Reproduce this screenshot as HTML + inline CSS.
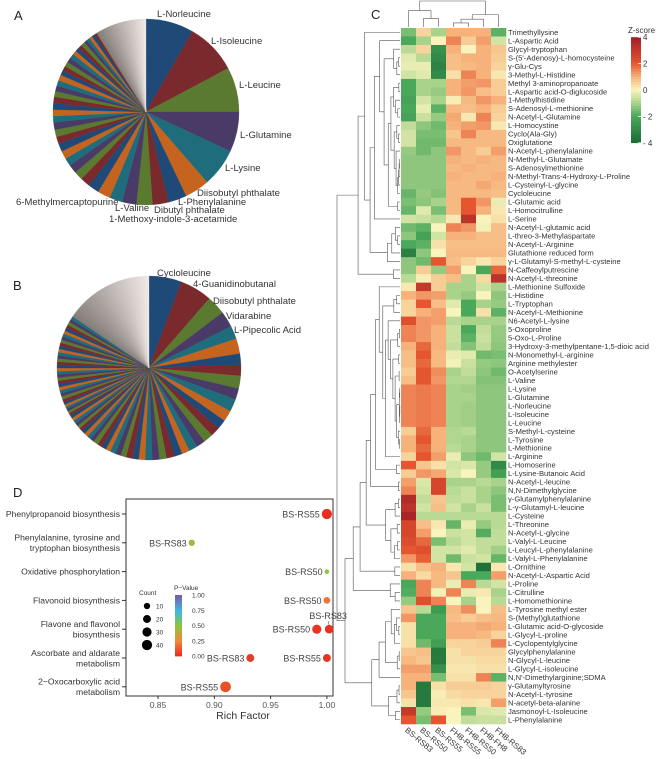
<!DOCTYPE html>
<html><head><meta charset="utf-8"><style>
html,body{margin:0;padding:0;background:#fff}
svg{display:block;font-family:"Liberation Sans",Arial,sans-serif}
</style></head><body>
<svg id="fig" width="669" height="759" viewBox="0 0 669 759" xmlns="http://www.w3.org/2000/svg">
<rect width="669" height="759" fill="#fff"/>
<text x="14" y="20" font-size="13" fill="#222">A</text>
<text x="13" y="290" font-size="13" fill="#222">B</text>
<text x="371" y="19" font-size="13" fill="#222">C</text>
<text x="13" y="497" font-size="13" fill="#222">D</text>
<g id="pieA"></g>
<g id="pieB"></g>
<g id="heat"></g>
<g id="dot"></g>
</svg>
<script>
const NS="http://www.w3.org/2000/svg";
function mk(tag,attrs,parent,txt){const e=document.createElementNS(NS,tag);for(const k in attrs)e.setAttribute(k,attrs[k]);if(txt!==undefined)e.textContent=txt;parent.appendChild(e);return e;}

// ---------- PIE DATA ----------
const pieAValues=[30,32,28,25,24,15.5,11.5,10,10,9,8,8,7,6,5.5,5.5,5,5,5,4.5,4.5,4.5,4,4,4,4,3.5,3.5,3.5,3.5,3,3,3,3,3,2.5,2.5,2.5,2.5,2,2,2,2,1.5];
const pieAGray=[1.6,1.6,1.6,1.6,1.6,1.6,1.6,1.6,1.6,1.6,1.6,1.6,1.6,1.6,1.6,1.6,1.6,1.6,1.6,1.6];
const pieALabels=[["L-Norleucine",157,17],["L-Isoleucine",211,44],["L-Leucine",239,88],["L-Glutamine",240,138],["L-Lysine",225,171],["Diisobutyl phthalate",197,196],["L-Phenylalanine",178,205],["Dibutyl phthalate",154,213],["1-Methoxy-indole-3-acetamide",109,222],["L-Valine",115,211],["6-Methylmercaptopurine",16,205]];
const pieBValues=[20.6,20.4,12,10,8.5,9.5,7,7,8,7,8,7,6,6,6,5.5,5.5,5,5,5,4.5,4.5,4.5,4,4,4,3.5,3.5,3.5,3,3,3,3,2.5,2.5,2.5,2.5,2,2,2,2,2,2,1.5,1.5,1.5,1.5,1.5,1.5,2,2,2,2,2,2,2,2,2,2,2,2,2,2,2,2,2,2,2,2,2,2,2,2,2,2,2,2];
const pieBGray=[2,2,2,2,2,2,2,2,2,2,2,2,2,2,2,2,2,2,2,2,2,2,2,2,2,2,2,2];
const pieBLabels=[["Cycloleucine",157,276],["4-Guanidinobutanal",193,287],["Diisobutyl phthalate",213,304],["Vidarabine",226,319],["L-Pipecolic Acid",234,333]];
const pieColors=["#1f4a78","#7a2a2c","#5a7a30","#4a3a68","#1f6c7c","#c4641e"];

function drawPie(g,cx,cy,r,vals,grays,labels,nm){
  const all=vals.concat(grays);const tot=all.reduce((a,b)=>a+b,0);
  let a0=0;
  all.forEach((v,i)=>{
    const a1=a0+v/tot*Math.PI*2;
    const x0=cx+r*Math.sin(a0),y0=cy-r*Math.cos(a0),x1=cx+r*Math.sin(a1),y1=cy-r*Math.cos(a1);
    let col;
    if(i<vals.length)col=pieColors[i%6];else{const t=(i-vals.length)/grays.length;const c=Math.round(125+t*110);col=`rgb(${c+8},${c},${c-4})`;}
    const p=mk("path",{d:`M${cx},${cy}L${x0},${y0}A${r},${r} 0 ${a1-a0>Math.PI?1:0} 1 ${x1},${y1}Z`,fill:col,stroke:col,"stroke-width":0.3},g);
    
    
    a0=a1;
  });
  labels.forEach(l=>{const t=mk("text",{x:l[1],y:l[2],"font-size":9.5,fill:"#333"},g,l[0]);
    
    });
}
drawPie(document.getElementById('pieA'),146,112,93,pieAValues,pieAGray,pieALabels,'pie-a');
drawPie(document.getElementById('pieB'),149,368,92,pieBValues,pieBGray,pieBLabels,'pie-b');

// ---------- HEATMAP DATA ----------
const heatCols=["BS-RS83","BS-RS50","BS-RS55","FH8-RS55","FH8-RS50","FH8-FH8","FH8-RS83"];
const heatRows=["Trimethyllysine","L-Aspartic Acid","Glycyl-tryptophan","S-(5'-Adenosy)-L-homocysteine","γ-Glu-Cys","3-Methyl-L-Histidine","Methyl 3-aminopropanoate","L-Aspartic acid-O-diglucoside","1-Methylhistidine","S-Adenosyl-L-methionine","N-Acetyl-L-Glutamine","L-Homocystine","Cyclo(Ala-Gly)","Oxiglutatione","N-Acetyl-L-phenylalanine","N-Methyl-L-Glutamate","S-Adenosylmethionine","N-Methyl-Trans-4-Hydroxy-L-Proline","L-Cysteinyl-L-glycine","Cycloleucine","L-Glutamic acid","L-Homocitrulline","L-Serine","N-Acetyl-L-glutamic acid","L-threo-3-Methylaspartate","N-Acetyl-L-Arginine","Glutathione reduced form","γ-L-Glutamyl-S-methyl-L-cysteine","N-Caffeoylputrescine","N-Acetyl-L-threonine","L-Methionine Sulfoxide","L-Histidine","L-Tryptophan","N-Acetyl-L-Methionine","N6-Acetyl-L-lysine","5-Oxoproline","5-Oxo-L-Proline","3-Hydroxy-3-methylpentane-1,5-dioic acid","N-Monomethyl-L-arginine","Arginine methylester","O-Acetylserine","L-Valine","L-Lysine","L-Glutamine","L-Norleucine","L-Isoleucine","L-Leucine","S-Methyl-L-cysteine","L-Tyrosine","L-Methionine","L-Arginine","L-Homoserine","L-Lysine-Butanoic Acid","N-Acetyl-L-leucine","N,N-Dimethylglycine","γ-Glutamylphenylalanine","L-γ-Glutamyl-L-leucine","L-Cysteine","L-Threonine","N-Acetyl-L-glycine","L-Valyl-L-Leucine","L-Leucyl-L-phenylalanine","L-Valyl-L-Phenylalanine","L-Ornithine","N-Acetyl-L-Aspartic Acid","L-Proline","L-Citrulline","L-Homomethionine","L-Tyrosine methyl ester","S-(Methyl)glutathione","L-Glutamic acid-O-glycoside","L-Glycyl-L-proline","L-Cyclopentylglycine","Glycylphenylalanine","N-Glycyl-L-leucine","L-Glycyl-L-isoleucine","N,N'-Dimethylarginine;SDMA","γ-Glutamyltyrosine","N-Acetyl-L-tyrosine","N-acetyl-beta-alanine","Jasmonoyl-L-Isoleucine","L-Phenylalanine"];
const heatValues=[
[-1.5,0.5,-1,1,1,1,-1.8],[-2,-1,0,1.5,0.6,1.2,-0.5],[-0.8,0.5,-2.8,1,0,1,0.7],[-0.3,-0.8,-3,0.8,1,1,0.6],[-0.2,-0.2,-3.2,0.8,0.9,1,0.5],[-0.5,-0.3,-3,0.3,1.5,1,0.2],
[-2,-1,-1,1,1.2,1.3,0.6],[-2,-1,-1.2,1,1.3,0.8,0.6],[-2.2,-0.5,-1,0.1,0.9,1.3,1],[-2,-0.2,-1.8,0.9,0.8,1,0.6],[-2.2,-0.6,-1.2,1.1,0.2,1.5,0.5],
[-0.7,-1.3,-1.6,1,1.2,1.3,0.2],[-0.5,-1.5,-1.5,0.7,1.5,0.9,0.9],[-0.5,-1.6,-1.6,0.9,0.9,0.9,0.9],[-1.2,-1.6,-1.3,1.3,0.9,0.6,1.2],[-1.3,-1.3,-1.3,1,0.9,1,0.9],
[-1.3,-1.3,-1.3,0.9,1,0.9,0.9],[-1.3,-1.3,-1.3,1,0.9,0.9,1],[-1.3,-1.3,-1.3,0.9,0.9,1.1,0.9],[-1.7,-1.2,-1.4,0.9,0.9,0.9,0.8],
[-1.5,-1.3,-1,0.9,2,1.3,-0.2],[-1.7,-0.3,-1.5,0.9,2,1,0.2],[-0.5,-0.6,-0.8,0.2,3.2,0,0.3],[-1.6,-1.8,0,1.5,1.3,-0.1,0.8],[-1.3,-2.2,-0.5,1,1,0.8,0.8],
[-2,-1.8,0.3,0.8,0.8,0.8,0.8],[-3.3,-1.3,0,0.9,0.9,0.9,0.9],[-1.3,-1.6,2,0.8,0.5,0.2,0.5],[-1.3,0.6,-1.2,1.2,0,-2,1.8],[-0.8,0.1,0.6,0.8,-1,0.4,3.2],
[0.2,3,0.6,-1,-1,-0.5,-1],[1,1.3,1.2,-1,-1.2,0,-1.3],[0.5,2,0.8,-0.3,-2,-1,-1.2],[0.5,1,1.2,0,-2,0.3,-1.8],[2.2,1.3,1.2,-0.8,-1,-1,-1],
[1.5,1.3,1,-0.6,-2,-0.7,-1.2],[1.5,1.3,1,-0.6,-1.8,-0.6,-1.2],[1,1.8,1,-0.7,-1.4,-0.7,-1.3],[0.8,2,0.9,-0.2,-0.3,-1.6,-1.5],[0.8,1.8,0.9,-0.1,-0.6,-1.2,-1.3],
[0.6,2,1.4,-1,-0.7,-1.3,-1.6],[0.8,2,1.3,-0.9,-0.9,-1.4,-1.4],[1.5,1.6,1.5,-1,-1.1,-1.3,-1.3],[1.5,1.6,1.5,-1,-1,-1.3,-1.3],[1.5,1.6,1.5,-1,-1.1,-1.3,-1.3],
[1.5,1.6,1.5,-1,-1.1,-1.3,-1.3],[1.5,1.6,1.5,-1,-1.1,-1.3,-1.3],[0.6,1.8,1,-0.9,-0.8,-1.3,-1.3],[1,2,1,-0.9,-1,-1.3,-1.3],[1,1.8,1,-0.8,-1,-1.3,-1.3],
[0.5,2,1.2,-0.2,-1.3,-1.6,-0.5],[2,0.7,0.3,-0.5,-0.4,-1.2,-3],[0.6,1.3,1.1,-0.4,0,-1.2,-2.3],[1.2,-0.4,2.5,-1,-1,-0.8,-1],[1.5,-0.5,2.5,-0.8,-0.6,-1,-1.3],
[3.5,-0.7,0.7,-0.7,-0.6,-1,-1.5],[3.2,-0.5,0.8,-0.5,-1,-0.6,-1.5],[3.7,-0.8,-0.8,-0.8,-0.8,-0.8,-0.8],[2.5,0.8,0.2,-1.7,-0.2,-1.2,-0.8],[2.5,1.2,0,-0.6,-0.5,-1.9,-0.7],
[2.3,1.8,-1.5,-0.8,-0.5,-0.7,-0.7],[2,2.2,-0.5,-0.5,-0.3,-0.7,-1.1],[1.3,1.9,-0.5,-1.6,-0.6,-0.5,-1.7],[0.3,0.8,1,0.2,-0.5,-3.8,0.2],[1,0.4,0.9,0.7,-2,-2,1.2],
[-2,1.5,0.9,-0.2,1.5,-0.8,-0.5],[-1.9,1.5,-0.1,1.5,-0.2,0.2,-1],[-1.2,2.2,1.5,0,-1,0,-0.8],[0.7,-0.8,-2.5,0.9,1.4,0,0.8],[1.3,-2,-2,0.8,0.6,0.8,0.9],
[0.3,-2,-2,1,1,1.1,1],[0.3,-2,-2,1,1,0.9,0.5],[0.3,-1.6,-2.3,0.5,0.5,0.6,1.5],[0.7,0.8,-3.5,0.3,0.5,0.5,0.5],[0.9,0.7,-3.5,0.3,0.3,0.4,0.4],
[1.2,1.2,-2.8,0.2,0.2,0.3,0.3],[1,1,-1.5,0.3,0.3,1.5,-1.8],[1,-3.5,0.3,0.6,0.6,0.6,0.5],[0.7,-3.5,0.1,0.4,0.5,0.5,0.5],[0.3,-3.5,0.2,0.2,0.3,0.2,1.2],
[3,-1.2,0.1,0,-1.5,-0.4,-0.3],[2,-1.5,2,0,-0.7,-0.6,-0.6]];
const zTicks=[4,2,0,-2,-4];

const zStops=[[-4,[26,107,53]],[-2,[74,168,90]],[-1,[169,211,138]],[0,[249,244,189]],[1,[246,178,122]],[2,[229,85,47]],[4,[160,29,37]]];
function zColor(v){v=Math.max(-4,Math.min(4,v));for(let i=0;i<zStops.length-1;i++){const a=zStops[i],b=zStops[i+1];if(v<=b[0]){const t=(v-a[0])/(b[0]-a[0]);const c=a[1].map((x,k)=>Math.round(x+(b[1][k]-x)*t));return `rgb(${c})`;}}return 'rgb(160,29,37)';}

const H=document.getElementById('heat');
const hx0=401,cw=15,hy0=28,rh=(724-28)/heatRows.length;
const hX=j=>hx0+j*cw, hY=i=>hy0+i*rh;
heatRows.forEach((nm,i)=>{
  heatValues[i].forEach((v,j)=>{
    const r=mk("rect",{x:hX(j),y:hY(i),width:cw+0.3,height:rh+0.3,fill:zColor(v)},H);
    
    
  });
  const t=mk("text",{x:508,y:hY(i)+rh/2+2.6,"font-size":7.6,fill:"#333"},H,nm);
  
  
});
heatCols.forEach((c,j)=>{
  const cx=hX(j)+cw/2-4,cy=731;
  const t=mk("text",{x:cx,y:cy,"font-size":8,fill:"#333",transform:`rotate(40 ${cx} ${cy})`},H,c);
  
  
});
// dendrograms (adjacency-constrained clustering)
function clusterTree(vecs){
  let cl=vecs.map((v,i)=>({pos:i,h:0,c:v.slice(),n:1}));
  const merges=[];
  while(cl.length>1){
    let best=0,bd=1e9;
    for(let k=0;k<cl.length-1;k++){let d=0;cl[k].c.forEach((x,m)=>d+=(x-cl[k+1].c[m])**2);d=Math.sqrt(d);if(d<bd){bd=d;best=k;}}
    const a=cl[best],b=cl[best+1];
    const nd={pos:(a.pos+b.pos)/2,h:Math.max(a.h,b.h)+bd*0.5+0.05,c:a.c.map((x,m)=>(x*a.n+b.c[m]*b.n)/(a.n+b.n)),n:a.n+b.n};
    merges.push([a,b,nd]);cl.splice(best,2,nd);
  }
  return merges;
}
const rowM=clusterTree(heatValues);const rmax=rowM[rowM.length-1][2].h;
const rg=mk("g",{stroke:"#555","stroke-width":0.6,fill:"none"},H);


rowM.forEach(([a,b,n])=>{
  const X=h=>400-h/rmax*63,Y=p=>hY(p)+rh/2;
  mk("path",{d:`M${X(a.h)},${Y(a.pos)}H${X(n.h)}V${Y(b.pos)}H${X(b.h)}`},rg);
});
const colVecs=heatCols.map((c,j)=>heatValues.map(r=>r[j]));
const colM=clusterTree(colVecs);const cmax=colM[colM.length-1][2].h;
const cg=mk("g",{stroke:"#555","stroke-width":0.6,fill:"none"},H);


colM.forEach(([a,b,n])=>{
  const Y=h=>27-h/cmax*26,X=p=>hX(p)+cw/2;
  mk("path",{d:`M${X(a.pos)},${Y(a.h)}V${Y(n.h)}H${X(b.pos)}V${Y(b.h)}`},cg);
});
// color bar
const zb=mk("g",{},H);
mk("text",{x:628,y:33,"font-size":8,fill:"#333"},zb,"Z-score");
const zY=v=>90-v*13.2;
for(let k=0;k<40;k++){const v=4-k*0.2;mk("rect",{x:631,y:zY(v),width:10,height:13.2*0.2+0.3,fill:zColor(v-0.1)},zb);}
zTicks.forEach(v=>{mk("line",{x1:638,x2:641,y1:zY(v),y2:zY(v),stroke:"#fff","stroke-width":0.8},zb);
  mk("text",{x:643,y:zY(v)+3,"font-size":8,fill:"#333"},zb,v<0?"- "+(-v):String(v));});

// ---------- BUBBLE CHART DATA ----------
const pathways=["Phenylpropanoid biosynthesis","Phenylalanine, tyrosine and|tryptophan biosynthesis","Oxidative phosphorylation","Flavonoid biosynthesis","Flavone and flavonol|biosynthesis","Ascorbate and aldarate|metabolism","2−Oxocarboxylic acid|metabolism"];
const ptPath=[0,1,2,3,4,4,5,5,6];
const ptRich=[1.0,0.88,1.0,1.0,0.991,1.002,0.932,1.0,0.91];
const ptCount=[40,10,3,12,30,25,20,20,45];
const ptP=[0.02,0.45,0.5,0.2,0.03,0.02,0.05,0.03,0.1];
const ptLabel=["BS-RS55","BS-RS83","BS-RS50","BS-RS50","BS-RS50","BS-RS83","BS-RS83","BS-RS55","BS-RS55"];
const xTicks=[0.85,0.90,0.95,1.00];
const countTicks=[10,20,30,40];
const pTicks=[1.00,0.75,0.50,0.25,0.00];

const D=document.getElementById('dot');
const bx0=126,bx1=333,by0=499,by1=696;
const xS=v=>158+(v-0.85)/0.05*56.3;
const yS=i=>514+i*28.8;
const rS=c=>1.2+Math.sqrt(c)*0.62;
const pStops=[[0,[232,40,30]],[0.25,[240,138,58]],[0.5,[140,196,60]],[0.75,[64,184,224]],[1,[123,90,166]]];
function pColor(v){for(let i=0;i<pStops.length-1;i++){const a=pStops[i],b=pStops[i+1];if(v<=b[0]){const t=(v-a[0])/(b[0]-a[0]);return `rgb(${a[1].map((x,k)=>Math.round(x+(b[1][k]-x)*t))})`;}}return 'rgb(123,90,166)';}
const fr=mk("rect",{x:bx0,y:by0,width:bx1-bx0,height:by1-by0,fill:"none",stroke:"#333","stroke-width":1},D);

pathways.forEach((p,i)=>{
  const ls=p.split("|");const y=yS(i);
  mk("line",{x1:bx0-4,x2:bx0,y1:y,y2:y,stroke:"#333"},D);
  ls.forEach((l,k)=>{const t=mk("text",{x:120,y:y+3+(k-(ls.length-1)/2)*10.5,"font-size":8.6,fill:"#333","text-anchor":"end"},D,l);
    });
});
xTicks.forEach(v=>{mk("line",{x1:xS(v),x2:xS(v),y1:by1,y2:by1+3,stroke:"#333"},D);
  const t=mk("text",{x:xS(v),y:708,"font-size":8.5,fill:"#555","text-anchor":"middle"},D,v.toFixed(2));
  });
const xt=mk("text",{x:243,y:719,"font-size":10.5,fill:"#333","text-anchor":"middle"},D,"Rich Factor");

ptRich.forEach((v,i)=>{
  const cx=xS(v),cy=yS(ptPath[i]),r=rS(ptCount[i]);
  const c=mk("circle",{cx:cx,cy:cy,r:r,fill:pColor(ptP[i])},D);
  
  
  let lx=cx-r-2,ly=cy+3.5,anc="end";
  if(i===5){lx=cx-1;ly=cy-10;anc="middle";mk("line",{x1:cx-1,y1:cy-8,x2:cx,y2:cy-4,stroke:"#333","stroke-width":0.5},D);}
  const t=mk("text",{x:lx,y:ly,"font-size":9,fill:"#444","text-anchor":anc},D,ptLabel[i]);
  
});
// legends
const lg=mk("g",{},D);
mk("text",{x:139,y:595,"font-size":6.5,fill:"#333"},lg,"Count");
countTicks.forEach((c,k)=>{const y=606+k*13;mk("circle",{cx:147,cy:y,r:rS(c),fill:"#000"},lg);
  mk("text",{x:156,y:y+2.5,"font-size":6.5,fill:"#333"},lg,String(c));});
const pg=mk("g",{},D);
mk("text",{x:174,y:590,"font-size":6.5,fill:"#333"},pg,"P−Value");
const pY=v=>656-v*61;
for(let k=0;k<50;k++){const v=k/50;mk("rect",{x:175,y:pY(v+0.02),width:7,height:1.6,fill:pColor(v+0.01)},pg);}
pTicks.forEach(v=>{mk("text",{x:192,y:pY(v)+2.5,"font-size":6.5,fill:"#333"},pg,v.toFixed(2));});
</script>
</body></html>
